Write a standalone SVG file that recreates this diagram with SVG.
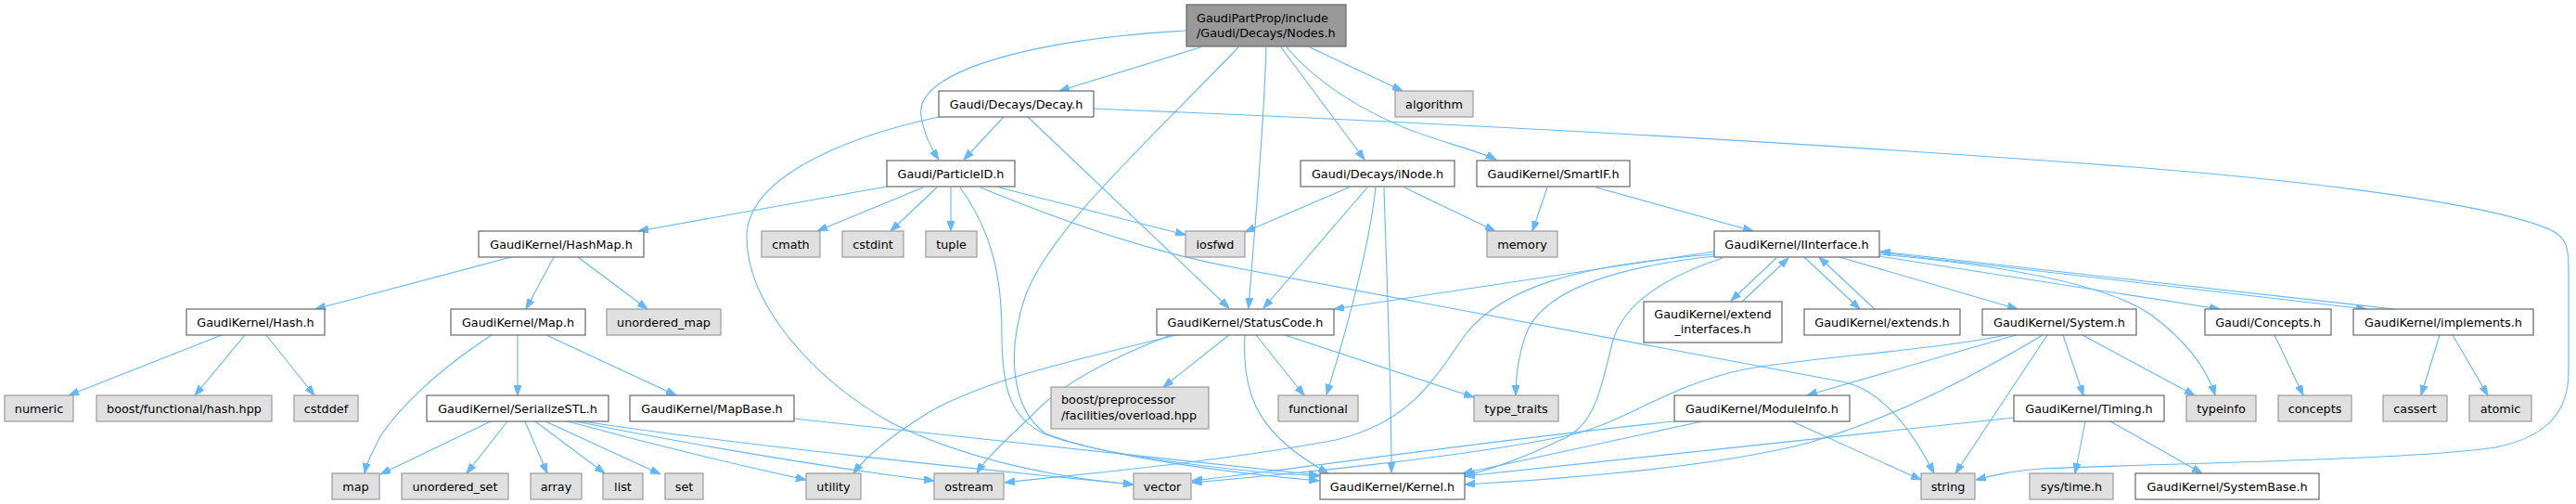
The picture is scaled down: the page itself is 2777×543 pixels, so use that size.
<svg xmlns="http://www.w3.org/2000/svg" width="2777" height="543" viewBox="0 0 2777 543">
<style>
rect{stroke-width:1.2}
.n rect{fill:#ffffff;stroke:#666666}
.g rect{fill:#e0e0e0;stroke:#999999}
.r rect{fill:#999999;stroke:#666666}
text{font-family:"DejaVu Sans","Liberation Sans",sans-serif;font-size:12.8px;fill:#000000;text-anchor:middle}
.s text{text-anchor:start}
#edges path{fill:none;stroke:#63b8ff;stroke-width:1.1;marker-end:url(#ah)}
</style>
<defs>
<marker id="ah" markerWidth="11" markerHeight="8" refX="11" refY="4" orient="auto" markerUnits="userSpaceOnUse">
<path d="M0,0 L11,4 L0,8 Z" fill="#63b8ff" stroke="#63b8ff" stroke-width="1"/>
</marker>
</defs>
<rect x="0" y="0" width="2777" height="543" fill="#ffffff"/>
<g id="edges">
<path d="M1279,33 C1120,42 985,75 993,125 C996,145 1004,160 1012,172"/>
<path d="M1294,51 L1142,98"/>
<path d="M1335,51 C1230,160 1130,250 1105,320 C1085,380 1090,440 1127,467 C1190,492 1330,510 1422,518"/>
<path d="M1365,51 C1362,150 1352,250 1346,332"/>
<path d="M1381,51 L1471,172"/>
<path d="M1387,51 C1420,90 1470,120 1520,140 C1560,155 1595,163 1613,172"/>
<path d="M1412,51 L1512,98"/>
<path d="M1082,126 L1039,172"/>
<path d="M1108,126 L1325,332"/>
<path d="M1012,126 C900,150 805,195 805,255 C805,330 880,410 960,455 C1040,495 1140,515 1222,522"/>
<path d="M1179,117 C1500,130 1900,150 2300,180 C2550,200 2700,225 2750,248 C2768,256 2769,270 2769,290 L2769,400 C2769,440 2750,470 2690,482 C2600,496 2300,500 2200,505 C2170,507 2150,512 2130,517"/>
<path d="M956,201 L688,249"/>
<path d="M995,202 L881,249"/>
<path d="M1010,202 L960,249"/>
<path d="M1025,202 L1025,249"/>
<path d="M1035,202 C1070,250 1080,300 1080,360 C1080,420 1090,450 1125,467 C1180,490 1330,508 1422,513"/>
<path d="M1077,202 L1278,253"/>
<path d="M1057,202 C1150,240 1240,272 1340,290 L1990,412 C2030,422 2062,465 2085,510"/>
<path d="M1454,202 L1342,250"/>
<path d="M1474,202 L1362,332"/>
<path d="M1483,202 C1478,250 1460,330 1430,425"/>
<path d="M1492,202 C1495,300 1500,420 1500,509"/>
<path d="M1514,202 L1612,249"/>
<path d="M1668,202 L1652,249"/>
<path d="M1721,202 L1890,249"/>
<path d="M551,277 L340,333"/>
<path d="M597,277 L567,333"/>
<path d="M623,277 L698,333"/>
<path d="M239,361 L74,426"/>
<path d="M264,361 L210,426"/>
<path d="M287,361 L339,426"/>
<path d="M530,361 C470,400 430,440 410,470 C400,490 395,500 393,510"/>
<path d="M558,361 L558,426"/>
<path d="M589,361 L729,426"/>
<path d="M529,454 L410,511"/>
<path d="M547,454 L503,510"/>
<path d="M566,454 L590,510"/>
<path d="M577,454 L652,510"/>
<path d="M588,454 L712,511"/>
<path d="M612,454 C700,478 800,502 869,517"/>
<path d="M620,454 C750,480 900,505 1007,518"/>
<path d="M628,454 C800,480 1050,505 1222,522"/>
<path d="M856,451 L1422,512"/>
<path d="M1268,361 C1150,390 1060,410 1000,445 C960,470 935,490 920,510"/>
<path d="M1262,361 C1200,385 1150,410 1120,440 C1090,470 1065,490 1053,510"/>
<path d="M1325,361 L1254,417"/>
<path d="M1354,361 L1406,426"/>
<path d="M1342,361 C1338,430 1360,470 1432,510"/>
<path d="M1385,361 L1589,428"/>
<path d="M1848,271 L1438,333"/>
<path d="M1848,274 C1700,285 1620,310 1580,360 C1545,410 1520,455 1440,474 C1300,500 1150,512 1083,520"/>
<path d="M1848,276 C1720,290 1660,320 1645,360 C1636,385 1634,405 1634,426"/>
<path d="M1857,278 C1790,300 1748,330 1738,370 C1725,420 1720,460 1680,475 C1650,490 1610,505 1579,513"/>
<path d="M1915,278 L1866,324"/>
<path d="M1878,325 L1928,278"/>
<path d="M1945,277 L2005,333"/>
<path d="M2021,333 L1961,277"/>
<path d="M1983,277 L2175,333"/>
<path d="M2026,274 C2150,285 2270,305 2320,340 C2360,370 2380,400 2388,426"/>
<path d="M2026,276 L2393,333"/>
<path d="M2026,272 L2551,333"/>
<path d="M2581,333 L2027,271"/>
<path d="M2163,361 C2080,378 1950,385 1880,398 C1800,415 1760,450 1700,467 C1600,490 1400,510 1285,520"/>
<path d="M2173,361 L1948,426"/>
<path d="M2202,361 C2120,410 2040,450 1950,477 C1850,503 1700,515 1579,522"/>
<path d="M2207,361 L2108,510"/>
<path d="M2224,361 L2246,426"/>
<path d="M2245,361 L2366,426"/>
<path d="M2171,450 C1950,472 1750,495 1579,513"/>
<path d="M2248,454 L2237,510"/>
<path d="M2275,454 L2374,510"/>
<path d="M1805,454 C1600,475 1400,505 1285,518"/>
<path d="M1835,454 L1577,510"/>
<path d="M1932,454 L2071,517"/>
<path d="M2452,361 L2483,426"/>
<path d="M2630,361 L2610,426"/>
<path d="M2644,361 L2682,426"/>
</g>
<g id="root" class="r s"><rect x="1279" y="5" width="172" height="45"/><text x="1290" y="23.5">GaudiPartProp/include</text><text x="1290" y="39.5">/Gaudi/Decays/Nodes.h</text></g>
<g id="decay" class="n"><rect x="1012" y="98" width="167" height="28"/><text x="1095.5" y="116.5">Gaudi/Decays/Decay.h</text></g>
<g id="algorithm" class="g"><rect x="1504" y="98" width="84" height="28"/><text x="1546" y="116.5">algorithm</text></g>
<g id="particleid" class="n"><rect x="956" y="173" width="138" height="28"/><text x="1025" y="191.5">Gaudi/ParticleID.h</text></g>
<g id="inode" class="n"><rect x="1402" y="173" width="166" height="28"/><text x="1485" y="191.5">Gaudi/Decays/iNode.h</text></g>
<g id="smartif" class="n"><rect x="1592" y="173" width="165" height="28"/><text x="1674.5" y="191.5">GaudiKernel/SmartIF.h</text></g>
<g id="hashmap" class="n"><rect x="516" y="249" width="178" height="28"/><text x="605" y="267.5">GaudiKernel/HashMap.h</text></g>
<g id="cmath" class="g"><rect x="821" y="249" width="63" height="28"/><text x="852.5" y="267.5">cmath</text></g>
<g id="cstdint" class="g"><rect x="908" y="249" width="66" height="28"/><text x="941" y="267.5">cstdint</text></g>
<g id="tuple" class="g"><rect x="998" y="249" width="55" height="28"/><text x="1025.5" y="267.5">tuple</text></g>
<g id="iosfwd" class="g"><rect x="1278" y="249" width="64" height="28"/><text x="1310" y="267.5">iosfwd</text></g>
<g id="memory" class="g"><rect x="1603" y="249" width="76" height="28"/><text x="1641" y="267.5">memory</text></g>
<g id="iinterface" class="n"><rect x="1848" y="249" width="178" height="28"/><text x="1937" y="267.5">GaudiKernel/IInterface.h</text></g>
<g id="hash" class="n"><rect x="201" y="333" width="149" height="28"/><text x="275.5" y="351.5">GaudiKernel/Hash.h</text></g>
<g id="map_h" class="n"><rect x="486" y="333" width="145" height="28"/><text x="558.5" y="351.5">GaudiKernel/Map.h</text></g>
<g id="unordered_map" class="g"><rect x="654" y="333" width="123" height="28"/><text x="715.5" y="351.5">unordered_map</text></g>
<g id="statuscode" class="n"><rect x="1247" y="333" width="191" height="28"/><text x="1342.5" y="351.5">GaudiKernel/StatusCode.h</text></g>
<g id="extend_interfaces" class="n"><rect x="1772" y="325" width="149" height="44"/><text x="1846.5" y="342.5">GaudiKernel/extend</text><text x="1846.5" y="358.5">_interfaces.h</text></g>
<g id="extends" class="n"><rect x="1945" y="333" width="168" height="28"/><text x="2029" y="351.5">GaudiKernel/extends.h</text></g>
<g id="system" class="n"><rect x="2137" y="333" width="166" height="28"/><text x="2220" y="351.5">GaudiKernel/System.h</text></g>
<g id="concepts_h" class="n"><rect x="2377" y="333" width="136" height="28"/><text x="2445" y="351.5">Gaudi/Concepts.h</text></g>
<g id="implements" class="n"><rect x="2537" y="333" width="194" height="28"/><text x="2634" y="351.5">GaudiKernel/implements.h</text></g>
<g id="numeric" class="g"><rect x="5" y="426" width="74" height="28"/><text x="42" y="444.5">numeric</text></g>
<g id="boost_hash" class="g"><rect x="104" y="426" width="189" height="28"/><text x="198.5" y="444.5">boost/functional/hash.hpp</text></g>
<g id="cstddef" class="g"><rect x="317" y="426" width="69" height="28"/><text x="351.5" y="444.5">cstddef</text></g>
<g id="serializestl" class="n"><rect x="460" y="426" width="196" height="28"/><text x="558" y="444.5">GaudiKernel/SerializeSTL.h</text></g>
<g id="mapbase" class="n"><rect x="679" y="426" width="177" height="28"/><text x="767.5" y="444.5">GaudiKernel/MapBase.h</text></g>
<g id="boost_pp" class="g s"><rect x="1133" y="417" width="170" height="45"/><text x="1144" y="435">boost/preprocessor</text><text x="1144" y="451.5">/facilities/overload.hpp</text></g>
<g id="functional" class="g"><rect x="1378" y="426" width="86" height="28"/><text x="1421" y="444.5">functional</text></g>
<g id="type_traits" class="g"><rect x="1589" y="426" width="91" height="28"/><text x="1634.5" y="444.5">type_traits</text></g>
<g id="moduleinfo" class="n"><rect x="1805" y="426" width="189" height="28"/><text x="1899.5" y="444.5">GaudiKernel/ModuleInfo.h</text></g>
<g id="timing" class="n"><rect x="2171" y="426" width="162" height="28"/><text x="2252" y="444.5">GaudiKernel/Timing.h</text></g>
<g id="typeinfo" class="g"><rect x="2357" y="426" width="75" height="28"/><text x="2394.5" y="444.5">typeinfo</text></g>
<g id="concepts" class="g"><rect x="2456" y="426" width="79" height="28"/><text x="2495.5" y="444.5">concepts</text></g>
<g id="cassert" class="g"><rect x="2569" y="426" width="69" height="28"/><text x="2603.5" y="444.5">cassert</text></g>
<g id="atomic" class="g"><rect x="2662" y="426" width="67" height="28"/><text x="2695.5" y="444.5">atomic</text></g>
<g id="map" class="g"><rect x="358" y="510" width="51" height="28"/><text x="383.5" y="528.5">map</text></g>
<g id="unordered_set" class="g"><rect x="433" y="510" width="115" height="28"/><text x="490.5" y="528.5">unordered_set</text></g>
<g id="array" class="g"><rect x="572" y="510" width="55" height="28"/><text x="599.5" y="528.5">array</text></g>
<g id="list" class="g"><rect x="650" y="510" width="43" height="28"/><text x="671.5" y="528.5">list</text></g>
<g id="set" class="g"><rect x="717" y="510" width="41" height="28"/><text x="737.5" y="528.5">set</text></g>
<g id="utility" class="g"><rect x="869" y="510" width="59" height="28"/><text x="898.5" y="528.5">utility</text></g>
<g id="ostream" class="g"><rect x="1007" y="510" width="75" height="28"/><text x="1044.5" y="528.5">ostream</text></g>
<g id="vector" class="g"><rect x="1222" y="510" width="62" height="28"/><text x="1253" y="528.5">vector</text></g>
<g id="kernel" class="n"><rect x="1423" y="510" width="156" height="28"/><text x="1501" y="528.5">GaudiKernel/Kernel.h</text></g>
<g id="string" class="g"><rect x="2071" y="510" width="58" height="28"/><text x="2100" y="528.5">string</text></g>
<g id="systime" class="g"><rect x="2188" y="510" width="90" height="28"/><text x="2233" y="528.5">sys/time.h</text></g>
<g id="systembase" class="n"><rect x="2302" y="510" width="198" height="28"/><text x="2401" y="528.5">GaudiKernel/SystemBase.h</text></g>
</svg>
